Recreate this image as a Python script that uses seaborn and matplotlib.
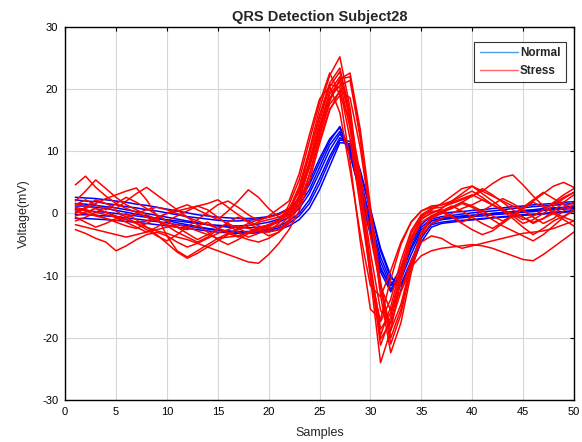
import matplotlib
matplotlib.use("Agg")
import matplotlib.pyplot as plt
from matplotlib.lines import Line2D
import pandas as pd
import seaborn as sns

# Sample index of each beat window
SAMPLES = list(range(1, 51))

# Normal-condition beats (mV), one list per beat
normal_1 = [2.2, 2.0, 1.9, 1.6, 1.4, 1.1, 0.9, 0.6, 0.4, 0.1, -0.2, -0.5, -0.7, -0.9, -1.1, -1.2, -1.2, -1.1, -0.9, -0.6, -0.1,
            0.6, 2.0, 4.6, 8.2, 11.6, 14.0, 10.2, 4.2, -2.4, -8.6, -12.2, -9.6, -5.4, -2.2, -0.9,
            -0.5, -0.3, -0.1, 0.1, 0.3, 0.4, 0.6, 0.8, 0.9, 1.1, 1.2, 1.3, 1.5, 1.6]
normal_2 = [1.2, 1.2, 1.0, 0.8, 0.5, 0.2, -0.1, -0.4, -0.8, -1.1, -1.5, -1.8, -2.1, -2.4, -2.6, -2.8, -2.9, -2.9, -2.8, -2.5, -2.0,
            -1.2, 0.0, 2.2, 5.6, 9.2, 12.2, 10.8, 5.6, -0.8, -7.0, -11.0, -11.8, -8.0, -4.0, -1.6,
            -1.0, -0.8, -0.7, -0.5, -0.4, -0.2, -0.1, 0.1, 0.2, 0.3, 0.5, 0.6, 0.7, 0.8]
normal_3 = [0.6, 0.5, 0.3, 0.2, 0.0, -0.2, -0.4, -0.6, -0.8, -1.0, -1.2, -1.4, -1.6, -1.8, -1.9, -2.0, -2.0, -1.9, -1.7, -1.4, -0.9,
            -0.1, 1.4, 3.8, 7.4, 11.0, 13.2, 9.4, 3.2, -3.4, -9.4, -12.6, -10.0, -5.8, -2.6, -1.2,
            -0.8, -0.6, -0.5, -0.3, -0.2, 0.0, 0.1, 0.2, 0.4, 0.5, 0.6, 0.8, 0.9, 1.0]
normal_4 = [-0.8, -0.8, -0.9, -1.0, -1.1, -1.3, -1.4, -1.6, -1.8, -2.0, -2.2, -2.4, -2.6, -2.8, -3.0, -3.1, -3.2, -3.2, -3.1, -2.9, -2.6,
            -2.0, -1.0, 0.8, 3.8, 7.6, 11.4, 11.2, 6.6, 0.4, -6.0, -10.4, -11.4, -7.6, -3.8, -1.8,
            -1.4, -1.2, -1.1, -1.0, -0.9, -0.7, -0.6, -0.5, -0.3, -0.2, -0.1, 0.1, 0.2, 0.3]
normal_5 = [2.6, 2.5, 2.4, 2.2, 2.0, 1.8, 1.5, 1.3, 1.0, 0.7, 0.4, 0.1, -0.2, -0.4, -0.6, -0.7, -0.8, -0.8, -0.7, -0.5, 0.0,
            0.8, 2.4, 5.2, 8.8, 12.0, 13.8, 9.6, 3.4, -3.0, -9.0, -11.6, -8.8, -4.8, -1.8, -0.4,
            0.0, 0.2, 0.3, 0.5, 0.6, 0.8, 0.9, 1.1, 1.2, 1.4, 1.5, 1.6, 1.8, 1.9]
normal_6 = [1.6, 1.5, 1.3, 1.1, 0.9, 0.6, 0.3, 0.0, -0.3, -0.6, -0.9, -1.2, -1.5, -1.8, -2.0, -2.2, -2.3, -2.3, -2.2, -1.9, -1.4,
            -0.6, 0.8, 3.2, 6.6, 10.2, 12.8, 10.4, 4.8, -1.6, -7.8, -11.6, -10.6, -6.6, -3.0, -1.2,
            -0.8, -0.6, -0.4, -0.3, -0.1, 0.0, 0.2, 0.3, 0.5, 0.6, 0.8, 0.9, 1.0, 1.2]
normal_7 = [-0.2, -0.2, -0.3, -0.4, -0.5, -0.7, -0.9, -1.1, -1.3, -1.5, -1.8, -2.0, -2.3, -2.5, -2.7, -2.9, -3.0, -3.0, -2.9, -2.7, -2.3,
            -1.6, -0.4, 1.6, 4.8, 8.6, 11.8, 11.6, 7.0, 0.8, -5.6, -10.0, -12.4, -8.8, -4.6, -2.2,
            -1.6, -1.4, -1.2, -1.0, -0.8, -0.7, -0.5, -0.4, -0.2, -0.1, 0.0, 0.2, 0.3, 0.5]

# Stress-condition beats (mV)
stress_1 = [4.6, 6.0, 4.2, 2.8, 1.6, 0.8, 0.2, -0.6, -1.2, -1.8, -2.2, -2.6, -2.0, -1.4, -2.4, -3.2, -3.8, -3.0, -2.2, -2.8, -1.6,
            1.4, 5.4, 11.6, 17.8, 22.6, 19.0, 8.4, -4.4, -15.4, -17.0, -10.6, -5.0, -1.4, 0.4, 1.0,
            1.4, 2.0, 2.8, 3.6, 2.6, 1.4, 0.6, -0.2, -1.0, -0.4, 0.6, 1.8, 3.0, 4.0]
stress_2 = [2.0, 3.6, 5.4, 4.0, 2.6, 1.4, 0.6, -0.2, -1.0, -2.0, -3.0, -3.8, -4.6, -3.8, -2.6, -1.4, -0.6, -1.4, -2.6, -3.6, -3.0,
            -1.2, 2.2, 7.4, 13.6, 19.2, 21.2, 13.6, 2.4, -9.4, -19.6, -15.0, -8.6, -3.2, -0.4, 0.4,
            0.2, -0.6, -1.6, -2.6, -3.4, -2.8, -1.6, -0.4, 0.8, 1.8, 1.0, 0.2, -0.6, -1.2]
stress_3 = [-2.6, -3.2, -4.0, -4.6, -6.0, -5.2, -4.2, -3.4, -3.0, -3.6, -4.6, -5.4, -4.8, -4.0, -3.2, -2.6, -2.0, -2.4, -2.8, -3.0, -2.6,
            -1.0, 1.6, 6.2, 11.8, 16.8, 19.0, 15.0, 6.4, -3.6, -11.8, -15.6, -12.4, -7.6, -4.6, -3.6,
            -4.0, -5.0, -5.6, -5.2, -4.8, -4.4, -4.0, -3.6, -3.2, -3.0, -2.8, -2.4, -1.8, -1.2]
stress_4 = [0.2, 1.0, 2.2, 1.6, 0.8, 2.0, 3.2, 4.2, 3.0, 1.8, 0.6, -0.6, -1.8, -3.0, -4.2, -5.0, -4.2, -3.2, -2.4, -1.8, -1.0,
            0.6, 4.4, 10.2, 16.8, 22.2, 25.2, 17.0, 4.6, -8.6, -20.2, -17.4, -10.4, -4.2, -0.6, 0.6,
            1.6, 2.8, 4.0, 4.4, 3.2, 2.0, 0.8, -0.4, -1.6, -1.0, 0.0, 1.2, 2.4, 3.4]
stress_5 = [-0.6, -1.4, -2.2, -1.6, -0.8, 0.0, -1.0, -2.2, -3.4, -4.8, -6.2, -7.2, -6.4, -5.4, -4.4, -3.4, -2.4, -1.6, -1.0, -0.6, -0.2,
            0.8, 3.4, 8.2, 13.8, 18.6, 20.6, 21.4, 12.2, 0.4, -11.8, -21.0, -16.2, -8.8, -3.0, -0.6,
            0.2, 1.0, 1.8, 2.8, 4.0, 3.0, 1.8, 0.6, -0.6, -1.6, -0.8, 0.4, 1.8, 3.0]
stress_6 = [0.8, 0.4, -0.2, -0.8, -1.4, -2.0, -2.4, -1.6, -0.8, 0.0, 0.8, 1.4, 0.6, -0.2, -1.0, 0.4, 2.0, 3.8, 2.6, 0.8, -0.6,
            -0.4, 2.8, 8.4, 14.8, 20.4, 22.8, 15.6, 3.6, -10.2, -24.0, -18.8, -10.8, -4.6, -1.4, -0.4,
            0.2, 0.8, 1.6, 1.0, 0.0, -1.0, -2.0, -2.8, -3.6, -4.4, -3.4, -2.0, -0.6, 0.6]
stress_7 = [0.0, 0.8, 1.6, 2.4, 3.0, 3.6, 4.1, 2.2, -0.4, -3.6, -6.0, -7.0, -6.0, -5.0, -4.0, -3.2, -2.6, -2.0, -1.4, -1.0, -0.6,
            0.4, 3.8, 9.6, 15.6, 20.8, 20.2, 12.0, 1.2, -9.8, -17.4, -13.8, -7.6, -2.8, -0.2, 0.8,
            1.0, 1.6, 2.2, 2.8, 3.6, 4.8, 5.8, 6.2, 4.6, 2.8, 1.2, 0.0, -1.0, -2.0]
stress_8 = [1.6, 1.2, 0.8, 0.2, -0.4, -1.0, -1.6, -2.2, -2.8, -3.2, -3.8, -4.2, -4.8, -5.4, -6.0, -6.6, -7.2, -7.8, -8.0, -6.6, -4.8,
            -2.6, 0.4, 5.2, 11.2, 16.6, 19.8, 18.6, 10.6, -0.4, -11.4, -18.8, -14.6, -8.2, -3.6, -1.6,
            -0.8, 0.0, 0.8, 1.4, 2.2, 1.4, 0.4, -0.8, -2.2, -3.4, -2.4, -1.2, -0.4, 0.4]
stress_9 = [1.0, 0.6, 0.2, -0.2, -0.6, -1.0, -1.4, -1.2, -0.6, 0.0, 0.4, 0.8, 1.2, 1.6, 2.2, 1.0, -0.2, -1.2, -2.0, -2.4, -2.0,
            -0.6, 2.4, 7.8, 14.0, 19.6, 22.0, 15.0, 3.8, -8.0, -18.6, -16.0, -9.4, -3.8, -0.8, 0.0,
            0.8, 2.0, 3.2, 4.4, 3.6, 2.8, 2.0, 1.2, 0.4, -0.4, 0.6, 1.6, 2.6, 3.4]
stress_10 = [-1.8, -2.2, -2.6, -3.0, -3.4, -3.8, -3.4, -3.0, -2.6, -2.2, -1.8, -2.2, -2.8, -3.4, -4.0, -3.8, -3.6, -3.0, -2.4, -1.8, -1.2,
             0.2, 2.8, 7.4, 12.8, 17.6, 19.6, 14.4, 4.8, -6.2, -15.6, -17.8, -12.6, -8.6, -6.8, -6.0,
             -5.6, -5.4, -5.2, -5.0, -5.2, -5.6, -6.2, -6.8, -7.4, -7.6, -6.6, -5.4, -4.2, -3.0]
stress_11 = [0.4, 0.0, -0.4, -0.8, -1.2, -0.6, 0.0, 0.6, 1.0, 0.6, 0.0, -0.6, -1.2, -1.8, -2.4, -3.0, -3.6, -4.2, -4.6, -4.0, -3.0,
             -1.6, 1.2, 6.2, 12.4, 18.0, 21.6, 22.0, 12.4, -0.6, -13.2, -22.4, -17.6, -9.6, -3.4, -0.8,
             0.0, 1.0, 1.8, 1.2, 0.4, -0.4, -1.2, -0.4, 0.8, 2.0, 3.2, 4.4, 5.0, 4.2]
stress_12 = [-1.2, -0.6, 0.2, 1.0, 0.4, -0.6, -1.6, -2.6, -3.6, -4.4, -3.4, -2.2, -1.0, 0.2, 1.4, 2.0, 1.0, -0.2, -1.2, -0.4, 0.8,
             2.0, 6.4, 12.6, 18.4, 20.4, 16.2, 7.0, -3.2, -11.6, -13.4, -9.2, -4.6, -1.4, 0.4, 1.2,
             1.4, 1.8, 2.4, 3.0, 2.2, 1.4, 0.6, 0.0, -0.6, -1.4, -0.8, 0.0, 1.0, 1.8]
stress_13 = [-0.4, 0.2, 0.8, 0.2, -0.6, -1.4, -2.2, -3.0, -2.2, -1.2, -0.4, 0.4, 1.2, 0.6, -0.6, -1.8, -3.0, -3.8, -3.2, -2.2, -1.2,
             0.4, 3.8, 9.4, 15.8, 21.0, 23.4, 16.2, 4.0, -9.2, -21.2, -16.6, -9.6, -4.0, -1.0, 0.2,
             0.6, -0.4, -1.4, -0.6, 0.4, 1.4, 2.4, 1.6, 0.6, -0.6, -1.6, -0.8, 0.4, 1.4]
stress_14 = [1.4, 2.2, 1.4, 0.6, 1.6, 2.6, 1.8, 0.8, -0.2, -1.2, -2.2, -3.2, -4.2, -3.4, -2.4, -1.6, -2.4, -3.2, -2.8, -2.0, -1.2,
             -0.2, 2.6, 7.6, 13.4, 18.4, 21.6, 22.6, 13.6, 1.2, -11.0, -20.0, -15.4, -8.4, -3.0, -0.4,
             0.4, 1.2, 0.4, -0.6, -1.6, -2.4, -1.4, -0.2, 1.0, 2.2, 3.4, 2.4, 1.4, 0.4]

NORMAL_BEATS = [normal_1, normal_2, normal_3, normal_4, normal_5, normal_6, normal_7]
STRESS_BEATS = [stress_1, stress_2, stress_3, stress_4, stress_5, stress_6, stress_7,
                stress_8, stress_9, stress_10, stress_11, stress_12, stress_13, stress_14]

X_TICKS = [0, 5, 10, 15, 20, 25, 30, 35, 40, 45, 50]
Y_TICKS = [-30, -20, -10, 0, 10, 20, 30]

# Long-form table: one row per sample per beat
records = []
for group, beats in (("Normal", NORMAL_BEATS), ("Stress", STRESS_BEATS)):
    for k, beat in enumerate(beats):
        for s, v in zip(SAMPLES, beat):
            records.append({"sample": s, "voltage": v, "beat": f"{group}{k}", "group": group})
df = pd.DataFrame(records)

sns.set_theme(style="white")
plt.rcParams["font.family"] = ["Liberation Sans", "DejaVu Sans"]
plt.rcParams["axes.unicode_minus"] = False

fig = plt.figure(figsize=(5.82, 4.42), dpi=100)
ax = fig.add_axes([0.112, 0.095, 0.874, 0.844])

sns.lineplot(data=df, x="sample", y="voltage", hue="group", units="beat",
             estimator=None, sort=False, palette={"Normal": "#0000ff", "Stress": "#ff0000"},
             hue_order=["Normal", "Stress"], linewidth=1.1, legend=False, ax=ax)

ax.set_xlim(0, 50)
ax.set_ylim(-30, 30)
ax.set_xticks(X_TICKS)
ax.set_yticks(Y_TICKS)
ax.grid(True, color="#d6d6d6", linewidth=0.8)
ax.set_axisbelow(True)
ax.tick_params(direction="in", length=3, width=0.8, labelsize=8, top=True, right=True,
               colors="black", pad=5)
for sp in ax.spines.values():
    sp.set_color("black")
    sp.set_linewidth(1.0)

ax.set_title("QRS Detection Subject28", fontsize=10.5, fontweight="bold", pad=4)
ax.set_xlabel("Samples", fontsize=9, labelpad=7)
ax.set_ylabel("Voltage(mV)", fontsize=9, labelpad=9)

handles = [Line2D([], [], color="#4d9de6", lw=1.0, label="Normal"),
           Line2D([], [], color="#ff6666", lw=1.0, label="Stress")]
leg = ax.legend(handles=handles, loc="upper right", fontsize=8.5, frameon=True,
                fancybox=False, edgecolor="black", borderpad=0.45, handlelength=3.2,
                handletextpad=0.2, labelspacing=0.5, borderaxespad=0.0,
                bbox_to_anchor=(0.984, 0.96))
leg.get_frame().set_linewidth(0.8)
for t in leg.get_texts():
    t.set_fontweight("bold")

fig.savefig("out.png", dpi=100)
